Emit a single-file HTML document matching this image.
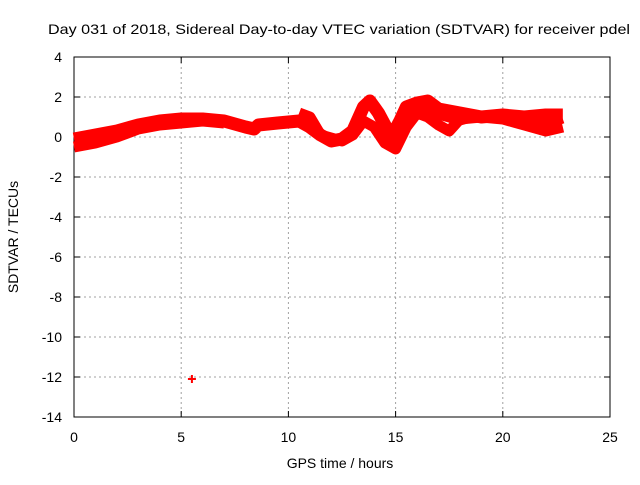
<!DOCTYPE html>
<html><head><meta charset="utf-8"><style>
body{margin:0;background:#fff;}
svg text{font-family:"Liberation Sans",sans-serif;font-size:14px;fill:#000;}
</style></head><body>
<svg id="chart" width="640" height="480">
<text x="48" y="34" textLength="582" lengthAdjust="spacingAndGlyphs">Day 031 of 2018, Sidereal Day-to-day VTEC variation (SDTVAR) for receiver pdel</text>
<g id="grid"></g>
<g id="axes"></g>
<g id="series"></g>
<text x="340" y="468" text-anchor="middle">GPS time / hours</text>
<text transform="translate(18,237) rotate(-90)" text-anchor="middle">SDTVAR / TECUs</text>
</svg>
<script>
const xTicks=[0,5,10,15,20,25];
const yTicks=[4,2,0,-2,-4,-6,-8,-10,-12,-14];
const trackATimes=[0,1,2,3,4,5,6,7,8,8.4,8.6,9.5,10.5,11,11.5,12,12.5,13,13.5,13.8,14.2,14.8,15.2,15.5,16,16.5,17,18,19,20,21,22,22.8];
const trackAValues=[-0.1,0.1,0.3,0.6,0.8,0.9,0.9,0.8,0.5,0.4,0.6,0.7,0.8,0.5,0.1,-0.2,-0.1,0.3,1.5,1.8,1.2,0.0,0.8,1.5,1.7,1.8,1.4,1.2,1.0,1.1,1.0,1.1,1.1];
const trackBTimes=[10.5,11,11.5,12.5,13,13.5,14,14.5,15,15.5,16,16.5,17,17.5,18,19,20,21,22,22.8];
const trackBValues=[1.2,1.0,0.1,-0.2,0.1,0.8,0.5,-0.3,-0.6,0.5,1.2,1.0,0.6,0.3,0.9,1.0,0.9,0.6,0.3,0.5];
const trackCTimes=[0,1,2,3,4,5,6,7];
const trackCValues=[-0.5,-0.3,0.0,0.4,0.6,0.7,0.8,0.7];
const trackDTimes=[15.5,16,17,18,19,20,21,22,22.8];
const trackDValues=[1.0,1.5,1.1,0.8,1.1,1.0,0.8,0.6,0.9];
const outlierTimes=[5.5];
const outlierValues=[-12.1];
const X0=74,X1=610,Y0=57,Y1=417;
const xs=v=>X0+(v-0)/(25-0)*(X1-X0);
const ys=v=>Y0+(4-v)/(4-(-14))*(Y1-Y0);
const NS="http://www.w3.org/2000/svg";
function mk(tag,attrs,parent){const e=document.createElementNS(NS,tag);for(const k in attrs)e.setAttribute(k,attrs[k]);parent.appendChild(e);return e;}
const grid=document.getElementById('grid'),axes=document.getElementById('axes'),series=document.getElementById('series');
xTicks.forEach(t=>{
  if(t>0&&t<25){const l=mk('line',{x1:xs(t),x2:xs(t),y1:Y0,y2:Y1,stroke:'#a0a0a0','stroke-dasharray':'2,3'},grid);
  
  }
  const tx=mk('text',{x:xs(t),y:Y1+25,'text-anchor':'middle'},axes);tx.textContent=t;
  
  
  mk('line',{x1:xs(t),x2:xs(t),y1:Y1,y2:Y1-6,stroke:'#000'},axes);
  mk('line',{x1:xs(t),x2:xs(t),y1:Y0,y2:Y0+6,stroke:'#000'},axes);
});
yTicks.forEach(t=>{
  if(t<4&&t>-14){const l=mk('line',{x1:X0,x2:X1,y1:ys(t),y2:ys(t),stroke:'#a0a0a0','stroke-dasharray':'2,3'},grid);
  
  }
  const tx=mk('text',{x:X0-12,y:ys(t)+5,'text-anchor':'end'},axes);tx.textContent=t;
  
  
  mk('line',{x1:X0,x2:X0+6,y1:ys(t),y2:ys(t),stroke:'#000'},axes);
  mk('line',{x1:X1,x2:X1-6,y1:ys(t),y2:ys(t),stroke:'#000'},axes);
});
const fr=mk('rect',{x:X0,y:Y0,width:X1-X0,height:Y1-Y0,fill:'none',stroke:'#000'},axes);


function track(ts,vs,w,name){
  const p=mk('polyline',{points:ts.map((t,i)=>xs(t)+','+ys(vs[i])).join(' '),fill:'none',stroke:'#ff0000','stroke-width':w,'stroke-linejoin':'round','stroke-linecap':'butt'},series);
  
  
}
track(trackATimes,trackAValues,13,'track-a');
track(trackBTimes,trackBValues,11,'track-b');
track(trackCTimes,trackCValues,11,'track-c');
track(trackDTimes,trackDValues,9,'track-d');
outlierTimes.forEach((t,i)=>{
  const g=mk('g',{},series);
  
  
  const x=xs(t),y=ys(outlierValues[i]);
  mk('path',{d:`M${x-4},${y}H${x+4}M${x},${y-4}V${y+4}`,stroke:'#ff0000','stroke-width':2},g);
});
</script>
</body></html>
